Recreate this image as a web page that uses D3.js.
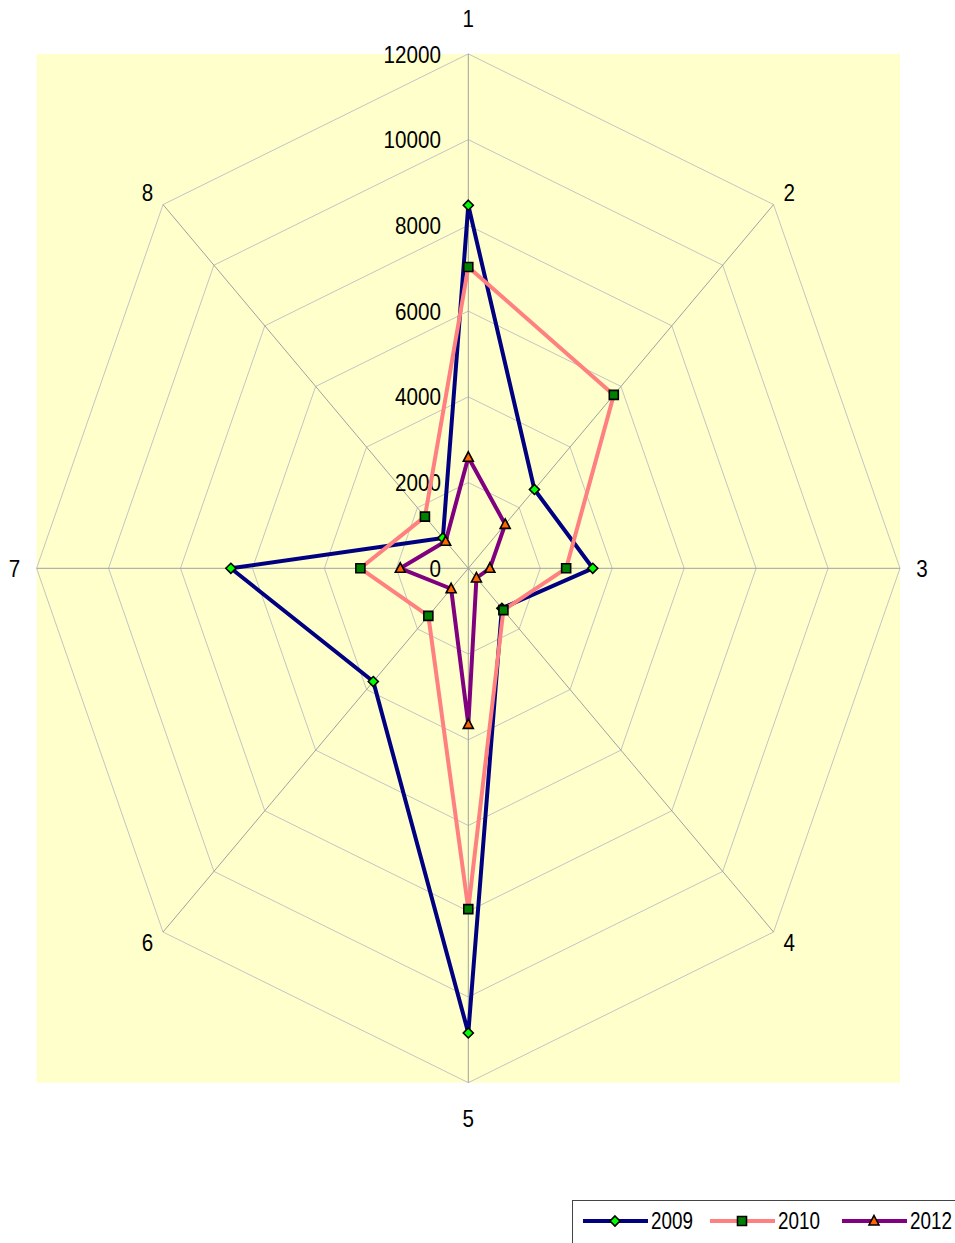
<!DOCTYPE html>
<html>
<head>
<meta charset="utf-8">
<script src="https://cdn.jsdelivr.net/npm/d3@7"></script>
<style>
  html, body { margin: 0; padding: 0; background: #ffffff; }
  svg { display: block; font-family: "Liberation Sans", Arial, sans-serif; }
</style>
</head>
<body>
<svg id="chart" width="955" height="1243"></svg>
<script>
// Spoke categories (clockwise from the top)
const categories = ["1", "2", "3", "4", "5", "6", "7", "8"];

// Series values per spoke
const years = ["2009", "2010", "2012"];
const values2009 = [8470, 2600, 3460, 1320, 10840, 3735, 6600, 1000];
const values2010 = [7030, 5720, 2720, 1380, 7950, 1570, 3000, 1705];
const values2012 = [2590, 1450, 600, 320, 3640, 675, 1890, 890];

// Radial tick labels
const tickValues = [0, 2000, 4000, 6000, 8000, 10000, 12000];

const svg = d3.select("#chart");
const cx = 468.3, cy = 568.3;
const rx = 431.7, ry = 514.4;
const squeeze = 0.86; // condensed lettering

const r = d3.scaleLinear().domain([0, 12000]).range([0, 1]);
const angle = d3.scaleLinear().domain([0, categories.length]).range([0, 2 * Math.PI]);

function pt(i, v) {
  const a = angle(i), k = r(v);
  return [cx + Math.sin(a) * k * rx, cy - Math.cos(a) * k * ry];
}

// Plot area background
svg.append("rect")
  .attr("x", cx - rx).attr("y", cy - ry)
  .attr("width", 2 * rx).attr("height", 2 * ry)
  .attr("fill", "#FFFFCC");

// Grid rings
const ringLine = d3.line();
svg.append("g").selectAll("path")
  .data(tickValues.slice(1))
  .join("path")
  .attr("d", v => ringLine(categories.map((c, i) => pt(i, v))) + "Z")
  .attr("fill", "none")
  .attr("stroke", "#c4c4c4")
  .attr("stroke-width", 1);

// Spokes
svg.append("g").selectAll("line")
  .data(categories)
  .join("line")
  .attr("x1", cx).attr("y1", cy)
  .attr("x2", (c, i) => pt(i, 12000)[0])
  .attr("y2", (c, i) => pt(i, 12000)[1])
  .attr("stroke", "#a0a0a0")
  .attr("stroke-width", 1);

// Radial tick labels
svg.append("g").selectAll("text")
  .data(tickValues)
  .join("text")
  .attr("transform", v => `translate(441,${pt(0, v)[1]}) scale(${squeeze},1)`)
  .attr("dy", "0.36em")
  .attr("text-anchor", "end")
  .attr("font-size", 24)
  .attr("fill", "#000")
  .text(v => v);

// Category labels around the outside
function labelPos(i) {
  const a = angle(i), e = pt(i, 12000);
  const s = Math.sin(a), c = Math.cos(a);
  const diag = Math.abs(s) > 0.1 && Math.abs(c) > 0.1;
  const x = e[0] + s * 22;
  const y = diag ? e[1] - Math.sign(c) * 12 + (c < 0 ? -2 : 0) : e[1] - c * 36;
  return [x, y];
}
svg.append("g").selectAll("text")
  .data(categories)
  .join("text")
  .attr("transform", (c, i) => `translate(${labelPos(i)[0]},${labelPos(i)[1]}) scale(${squeeze},1)`)
  .attr("dy", "0.36em")
  .attr("text-anchor", "middle")
  .attr("font-size", 24)
  .attr("fill", "#000")
  .text(c => c);

const seriesData = [
  { name: years[0], values: values2009, color: "#000080", marker: "diamond", fill: "#00FF00" },
  { name: years[1], values: values2010, color: "#FF8080", marker: "square", fill: "#008000" },
  { name: years[2], values: values2012, color: "#800080", marker: "triangle", fill: "#FF6600" }
];

function markerPath(type) {
  if (type === "diamond") return "M0,-5L5,0L0,5L-5,0Z";
  if (type === "square") return "M-4.5,-4.5H4.5V4.5H-4.5Z";
  return "M0,-5.5L5,4L-5,4Z";
}

const line = d3.line();
seriesData.forEach(s => {
  const g = svg.append("g");
  g.append("path")
    .attr("d", line(s.values.map((v, i) => pt(i, v))) + "Z")
    .attr("fill", "none")
    .attr("stroke", s.color)
    .attr("stroke-width", 4)
    .attr("stroke-linejoin", "round");
  g.selectAll("path.mk")
    .data(s.values)
    .join("path")
    .attr("class", "mk")
    .attr("transform", (v, i) => `translate(${pt(i, v)[0]},${pt(i, v)[1]})`)
    .attr("d", markerPath(s.marker))
    .attr("fill", s.fill)
    .attr("stroke", "#000")
    .attr("stroke-width", 1.6);
});

// Legend
const legend = svg.append("g");
legend.append("rect")
  .attr("x", 572.5).attr("y", 1200.5)
  .attr("width", 400).attr("height", 60)
  .attr("fill", "#fff")
  .attr("stroke", "#444")
  .attr("stroke-width", 1);

const legendX = [583, 710, 842];
seriesData.forEach((s, k) => {
  const x0 = legendX[k], ly = 1221;
  const g = legend.append("g");
  g.append("line")
    .attr("x1", x0).attr("x2", x0 + 65)
    .attr("y1", ly).attr("y2", ly)
    .attr("stroke", s.color)
    .attr("stroke-width", 4);
  g.append("path")
    .attr("transform", `translate(${x0 + 32},${ly})`)
    .attr("d", markerPath(s.marker))
    .attr("fill", s.fill)
    .attr("stroke", "#000")
    .attr("stroke-width", 1.6);
  g.append("text")
    .attr("transform", `translate(${x0 + 68},${ly}) scale(0.82,1)`)
    .attr("dy", "0.36em")
    .attr("font-size", 23)
    .attr("fill", "#000")
    .text(s.name);
});
</script>
</body>
</html>
